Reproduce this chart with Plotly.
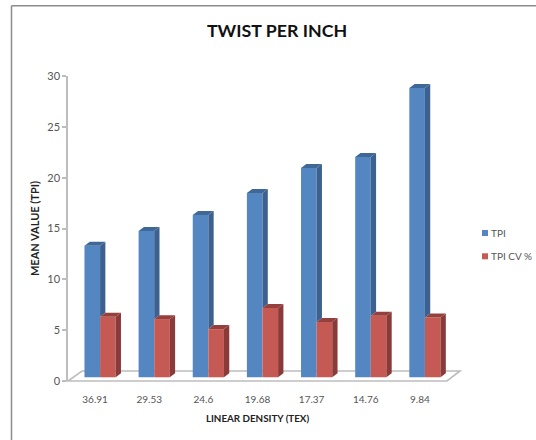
import plotly.graph_objects as go

categories = ["36.91", "29.53", "24.6", "19.68", "17.37", "14.76", "9.84"]
tpi = [12.94, 14.38, 15.96, 18.12, 20.58, 21.67, 28.45]
tpi_cv = [5.95, 5.72, 4.74, 6.81, 5.43, 6.05, 5.89]
y_ticks = [0, 5, 10, 15, 20, 25, 30]
series_names = ["TPI", "TPI CV %"]
series_colors = ["#5486c1", "#c55a55"]

W, H = 536, 440
L, R, T, B = 68, 447, 75.7, 380.7
XMIN, XMAX = -0.5, 6.5
YMIN, YMAX = 0, 30
PX = (XMAX - XMIN) / (R - L)   # data units per pixel, x
PY = (YMAX - YMIN) / (B - T)   # data units per pixel, y

DX, DY = 5.3 * PX, 4.0 * PY    # extrusion depth
BASE = 3.7 * PY                # bars stand slightly in front of the floor's front edge
BAR_W = 15.6 * PX
SHIFT = 5 * PX


def polygon(xs, ys, color):
    return go.Scatter(x=xs, y=ys, mode="lines", line=dict(width=0), fill="toself",
                      fillcolor=color, showlegend=False, hoverinfo="skip", cliponaxis=False)


def faces(xs, vals, floors, side, top):
    """Side and top faces of each extruded bar; floors = lowest visible height of the side."""
    out = []
    for x, v, f in zip(xs, vals, floors):
        x1, y1 = x + BAR_W, BASE + v
        out.append(polygon([x1, x1 + DX, x1 + DX, x1, x1], [f, f + DY, y1 + DY, y1, f], side))
        out.append(polygon([x, x + DX, x1 + DX, x1, x], [y1, y1 + DY, y1 + DY, y1, y1], top))
    return out


idx = list(range(len(categories)))
blue_x = [i + SHIFT - BAR_W for i in idx]
red_x = [i + SHIFT for i in idx]

fig = go.Figure()

# Front faces are real bars; the extruded faces sit above them in Plotly's layer order,
# so the blue side stops where the red bar in front of it begins.
fig.add_trace(go.Bar(x=blue_x, y=tpi, base=BASE, width=BAR_W, offset=0, name=series_names[0],
                     marker=dict(color=series_colors[0], line=dict(width=0)), showlegend=False))
fig.add_trace(go.Bar(x=red_x, y=tpi_cv, base=BASE, width=BAR_W, offset=0, name=series_names[1],
                     marker=dict(color=series_colors[1], line=dict(width=0)), showlegend=False))
for t in faces(blue_x, tpi, [BASE + v for v in tpi_cv], "#3c618f", "#3f6896"):
    fig.add_trace(t)
for t in faces(red_x, tpi_cv, [BASE] * len(tpi_cv), "#8a3a38", "#95403d"):
    fig.add_trace(t)


def px(x):
    return (x - L) / (R - L)


def py(y):
    return (B - y) / (B - T)


FLOOR = "#bdbdbd"
FRAME = "#8c8c8c"
shapes = [
    # floor of the 3D plot
    dict(type="path", xref="paper", yref="paper", layer="below",
         path=f"M{px(68)},{py(380.7)} L{px(447)},{py(380.7)} L{px(460)},{py(370.7)} "
              f"L{px(82)},{py(370.7)} Z",
         line=dict(color=FLOOR, width=1.6), fillcolor="rgba(0,0,0,0)"),
    # the frame shows only along the top and left edges
    dict(type="line", xref="paper", yref="paper", x0=px(11.5), x1=px(540), y0=py(5.5), y1=py(5.5),
         line=dict(color=FRAME, width=1.5), layer="below"),
    dict(type="line", xref="paper", yref="paper", x0=px(11.5), x1=px(11.5), y0=py(5.5), y1=py(445),
         line=dict(color=FRAME, width=1.5), layer="below"),
]

annotations = []
for name, color, yc in zip(series_names, series_colors, [232.7, 256]):
    shapes.append(dict(type="rect", xref="paper", yref="paper", layer="above",
                       x0=px(482), x1=px(488), y0=py(yc - 3), y1=py(yc + 3),
                       fillcolor=color, line=dict(width=0)))
    annotations.append(dict(text=name, xref="paper", yref="paper", x=px(489), y=py(yc),
                            xanchor="left", yanchor="middle", showarrow=False,
                            font=dict(size=10, color="#555555")))

font = "Lato, Carlito, sans-serif"
fig.update_layout(
    width=W, height=H, autosize=False,
    margin=dict(l=L, r=W - R, t=T, b=H - B, pad=0),
    paper_bgcolor="white", plot_bgcolor="white",
    barmode="overlay", showlegend=False,
    font=dict(family=font, size=10, color="#555555"),
    title=dict(text="<b>TWIST PER INCH</b>", x=277 / W, xanchor="center",
               y=1 - 31 / H, yanchor="middle",
               font=dict(family=font, size=17.8, color="#111111")),
    xaxis=dict(range=[XMIN, XMAX], tickmode="array", tickvals=idx, ticktext=categories,
               showgrid=False, zeroline=False, showline=False,
               ticks="outside", ticklen=9, tickcolor="rgba(0,0,0,0)",
               tickfont=dict(size=10, color="#555555"),
               title=dict(text="<b>LINEAR DENSITY (TEX)</b>", standoff=11,
                          font=dict(size=9.8, color="#222222"))),
    yaxis=dict(range=[YMIN, YMAX], tickmode="array", tickvals=y_ticks,
               showgrid=False, zeroline=False, showline=True, linecolor=FLOOR, linewidth=1.5,
               ticks="outside", ticklen=4, tickcolor=FLOOR, tickwidth=1.5,
               tickfont=dict(size=11, color="#555555"),
               title=dict(text="<b>MEAN VALUE (TPI)</b>", standoff=5,
                          font=dict(size=11, color="#222222"))),
    shapes=shapes,
    annotations=annotations,
)

fig.write_html("out.html", config=dict(displayModeBar=False),
               post_script="document.body.style.margin='0';document.documentElement.style.overflow='hidden';")
